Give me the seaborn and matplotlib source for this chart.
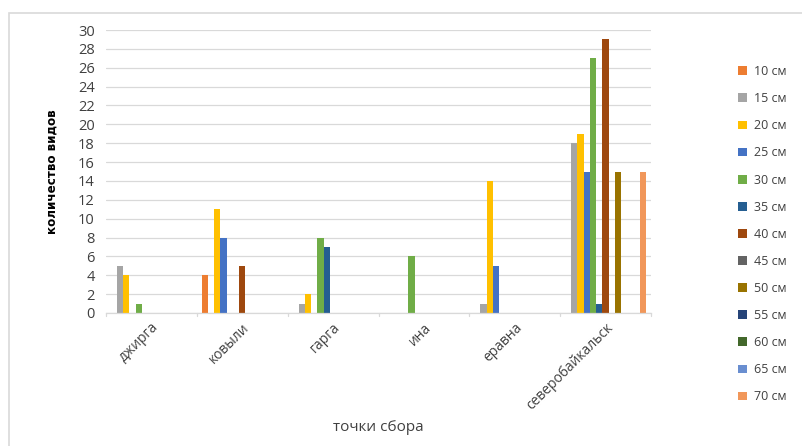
import matplotlib
matplotlib.use("Agg")
import matplotlib.pyplot as plt
from matplotlib.patches import Rectangle
import seaborn as sns
import pandas as pd

sites = ["джирга", "ковыли", "гарга", "ина", "еравна", "северобайкальск"]
depths = ["10 см", "15 см", "20 см", "25 см", "30 см", "35 см", "40 см",
          "45 см", "50 см", "55 см", "60 см", "65 см", "70 см"]

# species counts per depth, one list per collection site (order of depths)
dzhirga = [0, 5, 4, 0, 1, 0, 0, 0, 0, 0, 0, 0, 0]
kovyli = [4, 0, 11, 8, 0, 0, 5, 0, 0, 0, 0, 0, 0]
garga = [0, 1, 2, 0, 8, 7, 0, 0, 0, 0, 0, 0, 0]
ina = [0, 0, 0, 0, 6, 0, 0, 0, 0, 0, 0, 0, 0]
eravna = [0, 1, 14, 5, 0, 0, 0, 0, 0, 0, 0, 0, 0]
severobaikalsk = [0, 18, 19, 15, 27, 1, 29, 0, 15, 0, 0, 0, 15]

palette = ["#ED7D31", "#A5A5A5", "#FFC000", "#4472C4", "#70AD47", "#255E91",
           "#9E480E", "#636363", "#997300", "#264478", "#43682B", "#698ED0",
           "#F1975A"]

rows = []
for site, vals in zip(sites, [dzhirga, kovyli, garga, ina, eravna, severobaikalsk]):
    for d, v in zip(depths, vals):
        rows.append({"site": site, "depth": d, "count": v})
df = pd.DataFrame(rows)

sns.set_style("white")
plt.rcParams["font.family"] = ["Open Sans", "DejaVu Sans"]

fig = plt.figure(figsize=(8.02, 4.46), dpi=100)
ax = fig.add_axes([106 / 802, 1 - 313 / 446, (651 - 106) / 802, (313 - 30) / 446])

sns.barplot(data=df, x="site", y="count", hue="depth", hue_order=depths,
            order=sites, palette=palette, width=13 / 14.5, saturation=1,
            linewidth=0, errorbar=None, ax=ax, legend=True)

ax.set_ylim(0, 30)
ax.set_xlim(-0.5, len(sites) - 0.5)
ax.set_yticks(range(0, 31, 2))
ax.yaxis.grid(True, color="#D9D9D9", linewidth=0.9)
ax.set_axisbelow(True)
for s in ["top", "right", "left"]:
    ax.spines[s].set_visible(False)
ax.spines["bottom"].set_color("#D9D9D9")
ax.spines["bottom"].set_linewidth(0.9)

ax.tick_params(axis="y", length=0, labelsize=10.5, pad=8, labelcolor="#404040")
ax.tick_params(axis="x", length=0, labelsize=10, pad=5, labelcolor="#404040")
for lbl in ax.get_xticklabels():
    lbl.set_rotation(45)
    lbl.set_ha("right")
    lbl.set_rotation_mode("anchor")

# category separator ticks along the baseline
for b in range(len(sites) + 1):
    ax.plot([b - 0.5, b - 0.5], [0, -0.35], color="#D9D9D9", lw=0.9,
            clip_on=False)

ax.set_xlabel("точки сбора", fontsize=11, color="#404040")
ax.xaxis.set_label_coords(0.5, (313 - 420) / 283)
ax.set_ylabel("количество видов", fontsize=9.5, color="#000000",
              family="DejaVu Sans", fontstretch="condensed",
              fontweight="bold", labelpad=14)

handles, labels = ax.get_legend_handles_labels()
ax.legend(handles, labels, loc="upper left", bbox_to_anchor=(733 / 802, 1 - 60 / 446),
          bbox_transform=fig.transFigure, frameon=False, fontsize=9,
          labelcolor="#404040", handlelength=0.7, handleheight=0.7,
          handletextpad=0.6, labelspacing=1.13, borderaxespad=0)

# outer chart frame
fig.patches.append(Rectangle((9 / 802, -0.05), 1.2, 1 - 13 / 446 + 0.05,
                             transform=fig.transFigure, fill=False,
                             edgecolor="#D9D9D9", linewidth=1.2))

fig.savefig("out.png", dpi=100)
